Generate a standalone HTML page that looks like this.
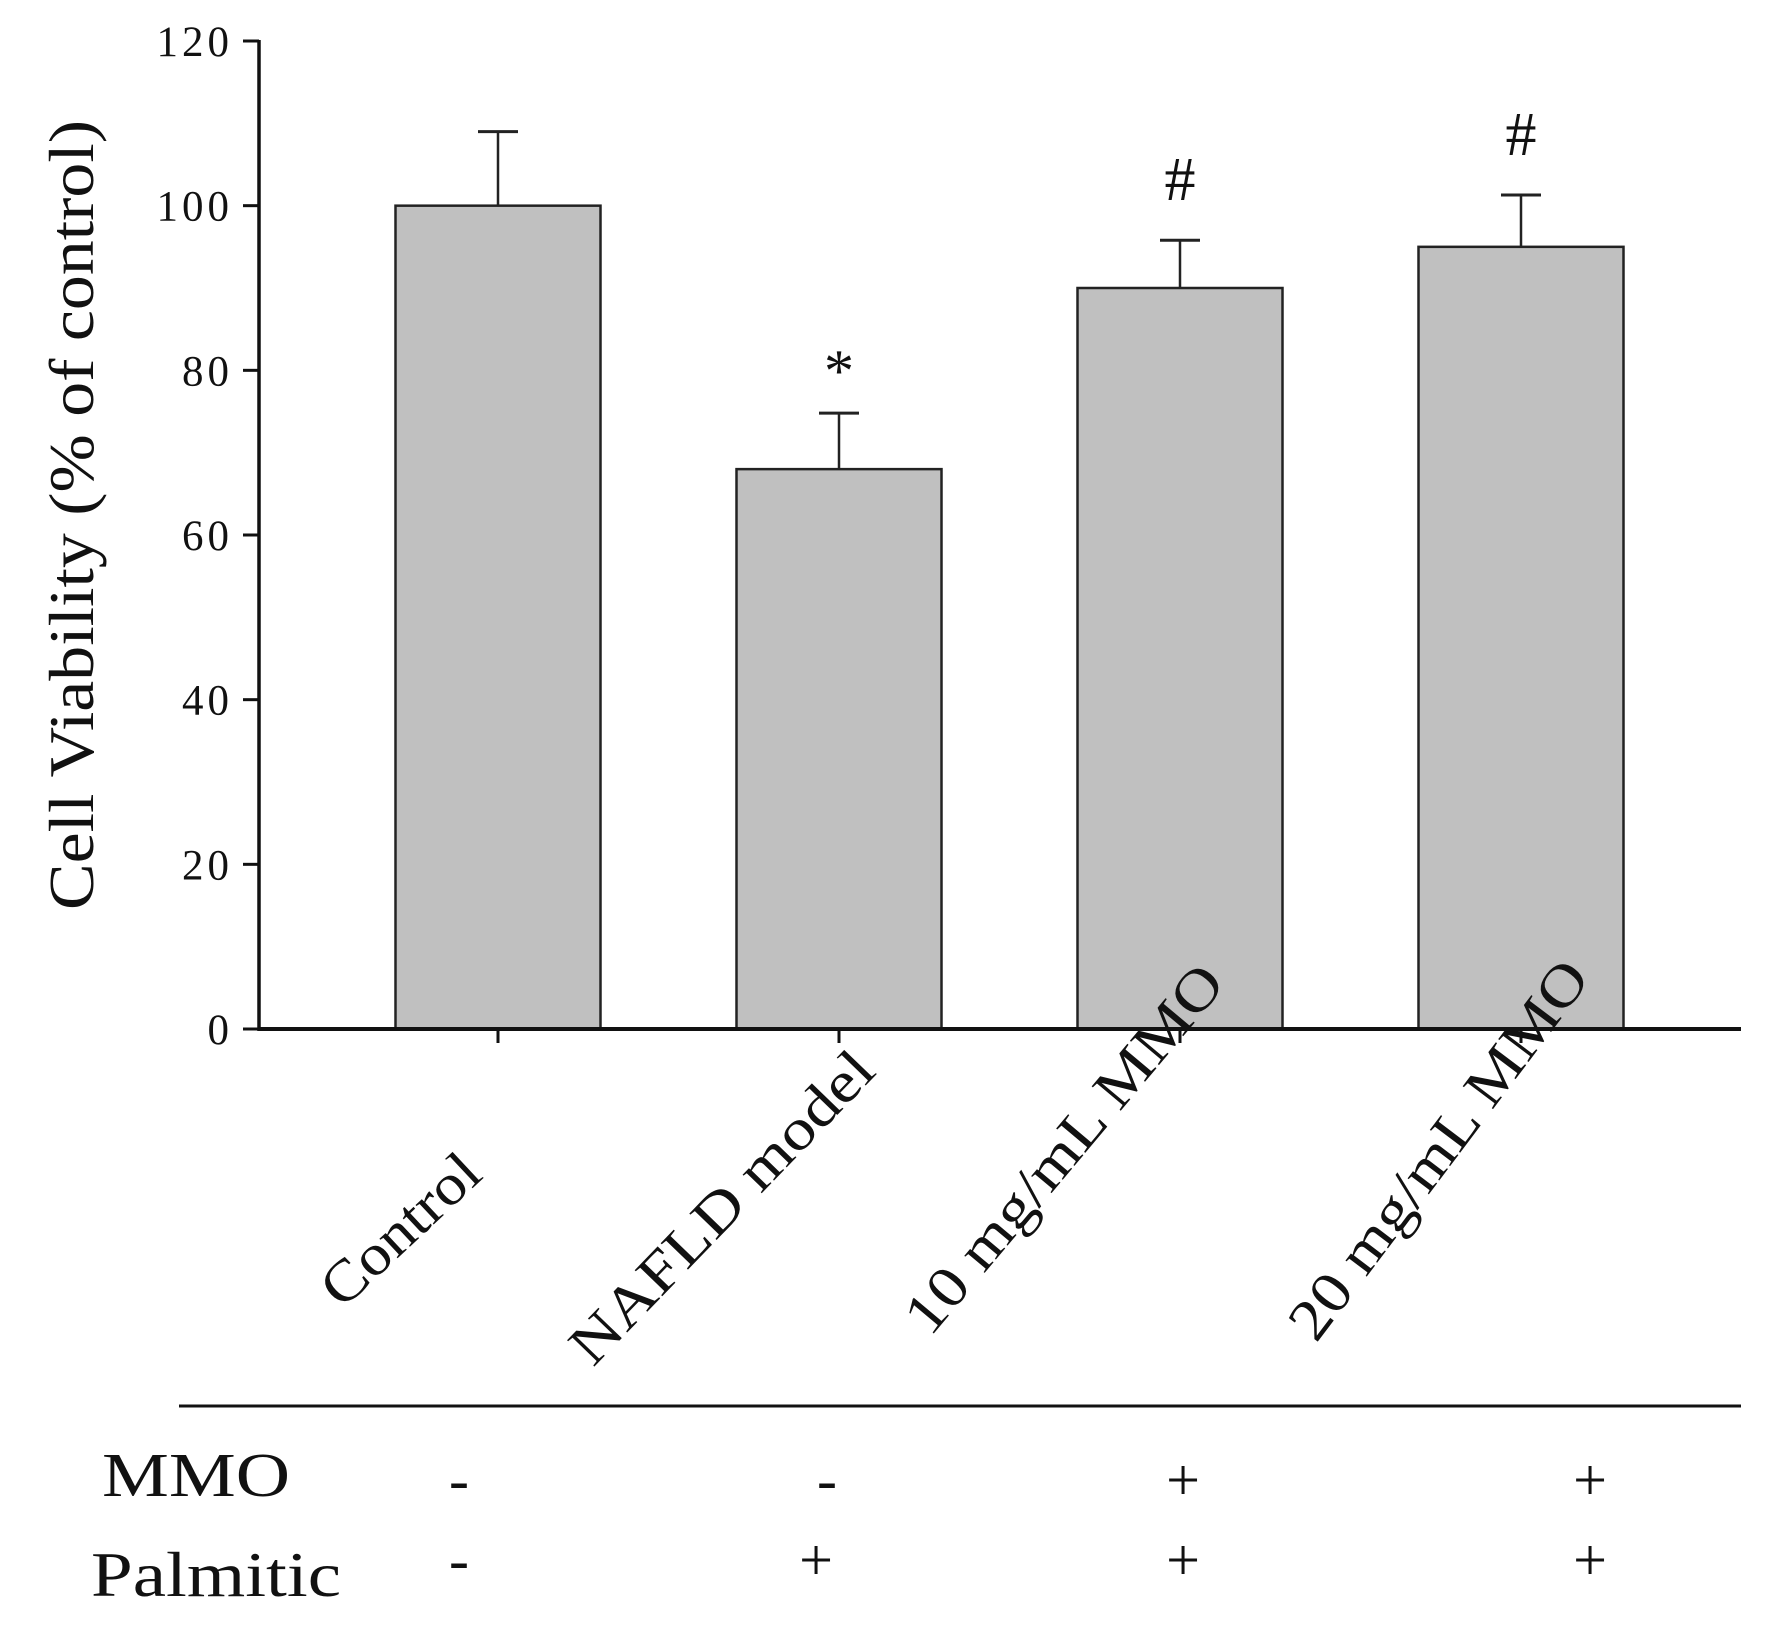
<!DOCTYPE html>
<html><head><meta charset="utf-8"><style>
html,body{margin:0;padding:0;background:#fff;}
svg{display:block;}
text{font-family:"Liberation Serif","Times New Roman",serif;}
</style></head><body>
<svg id="chart" width="1784" height="1631" viewBox="0 0 1784 1631">
<g id="marks"></g>
</svg>
<script>
const categories=["Control","NAFLD model","10  mg/mL MMO","20 mg/mL MMO"];
const values=[100,68,90,95];
const errors=[9,6.8,5.8,6.3];
const marks=["","*","#","#"];
const yTicks=[0,20,40,60,80,100,120];
const mmoSigns=["-","-","+","+"];
const palmSigns=["-","+","+","+"];
const labelStart=[[342,1310],[593,1368],[930,1338],[1316,1344]];
const labelAngle=[-43,-46,-50,-53];
const labelLen=[195,410,462,458];

const NS="http://www.w3.org/2000/svg";
const FF="Liberation Serif, Times New Roman, serif";
const g=document.getElementById('marks');
const X0=259,Y0=1029,YT=41,XEND=1741;
const y=v=>Y0-(v/120)*(Y0-YT);
const x=i=>498+i*341;
const BW=205;
function mk(tag,attrs,parent){const e=document.createElementNS(NS,tag);for(const k in attrs)e.setAttribute(k,attrs[k]);if(tag=='text')e.setAttribute('font-family',FF);(parent||g).appendChild(e);return e;}

values.forEach((v,i)=>{
  const cx=x(i);
  const eb=mk('line',{x1:cx,x2:cx,y1:y(v),y2:y(v+errors[i]),stroke:'#222','stroke-width':2.5});
  
  
  const cap=mk('line',{x1:cx-20,x2:cx+20,y1:y(v+errors[i]),y2:y(v+errors[i]),stroke:'#222','stroke-width':3});
  
  
  const r=mk('rect',{x:cx-BW/2,y:y(v),width:BW,height:Y0-y(v),fill:'#c0c0c0',stroke:'#222','stroke-width':2.5});
  
  
  if(marks[i]){
    const t=mk('text',{x:cx,y:y(v+errors[i])-(marks[i]=='*'?22:40),'text-anchor':'middle','font-size':marks[i]=='*'?60:62,fill:'#111'});
    t.textContent=marks[i];
    
    
  }
  const tk=mk('line',{x1:cx,x2:cx,y1:Y0,y2:Y0+14,stroke:'#111','stroke-width':3});
  
  
  const [sx,sy]=labelStart[i];
  const lt=mk('text',{x:sx,y:sy,transform:`rotate(${labelAngle[i]} ${sx} ${sy})`,'font-size':58,textLength:labelLen[i],lengthAdjust:'spacingAndGlyphs',fill:'#111'});
  lt.textContent=categories[i];
  
  
  const m=mk('text',{x:[459,827,1183,1590][i],y:1500,'text-anchor':'middle','font-size':60,fill:'#111'});
  m.textContent=mmoSigns[i];
  
  
  const p=mk('text',{x:[459,816,1183,1590][i],y:1580,'text-anchor':'middle','font-size':60,fill:'#111'});
  p.textContent=palmSigns[i];
  
  
});

const ya=mk('line',{x1:X0,x2:X0,y1:YT-1,y2:Y0+2,stroke:'#111','stroke-width':3.5});


const xa=mk('line',{x1:X0,x2:XEND,y1:Y0,y2:Y0,stroke:'#111','stroke-width':4});


yTicks.forEach(t=>{
  const l=mk('line',{x1:X0-16,x2:X0,y1:y(t),y2:y(t),stroke:'#111','stroke-width':3});
  
  
  const tx=mk('text',{x:X0-26,y:y(t)+15,'text-anchor':'end','font-size':43,'letter-spacing':4,fill:'#111'});
  tx.textContent=t;
  
  
});
const yt=mk('text',{x:0,y:0,transform:'translate(93 515) rotate(-90)','text-anchor':'middle','font-size':64,textLength:790,lengthAdjust:'spacingAndGlyphs',fill:'#111'});
yt.textContent='Cell Viability (% of control)';


const hl=mk('line',{x1:179,x2:XEND,y1:1406,y2:1406,stroke:'#111','stroke-width':3});


const ml=mk('text',{x:102,y:1496,'font-size':62,textLength:188,lengthAdjust:'spacingAndGlyphs',fill:'#111'});
ml.textContent='MMO';


const pl=mk('text',{x:91,y:1596,'font-size':64,textLength:250,lengthAdjust:'spacingAndGlyphs',fill:'#111'});
pl.textContent='Palmitic';


</script>
</body></html>
